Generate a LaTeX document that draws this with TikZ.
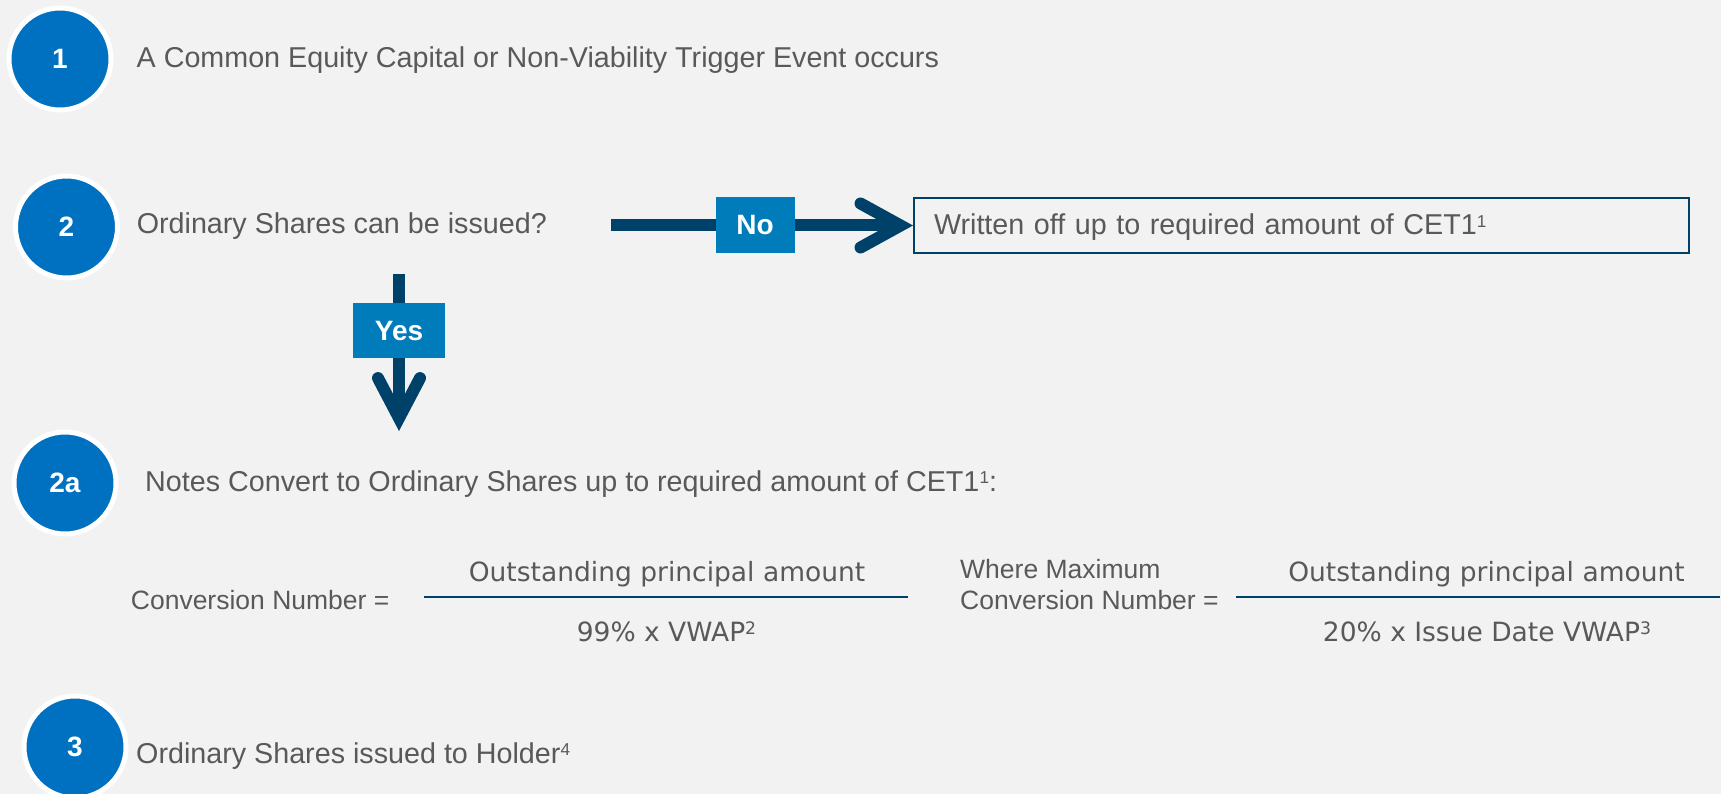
\documentclass[tikz,border=0pt]{standalone}
\usepackage{fontspec}
\usepackage{graphicx}
\setmainfont{Liberation Sans}
\newfontfamily\fracfont{DejaVu Sans}
\usetikzlibrary{arrows.meta, positioning}
\definecolor{BgGrey}{HTML}{F2F2F2}
\definecolor{StepBlue}{HTML}{0070C0}
\definecolor{FlowNavy}{HTML}{00416A}
\definecolor{TagBlue}{HTML}{007CBA}
\definecolor{TextGrey}{HTML}{595959}
\newcommand{\fnmark}[1]{\raisebox{0.25em}{\scalebox{0.6}{#1}}}
\newcommand{\fnmarkv}[1]{\raisebox{0.25em}{\scalebox{0.65}{#1}}}

\begin{document}
\begin{tikzpicture}[
    x=1pt, y=-1pt,
    font=\fontsize{28.7}{34}\selectfont,
    % Step Styles
    stepcircle/.style={circle, fill=StepBlue, draw=white, line width=5pt, minimum size=102pt, inner sep=0pt, text=white, font=\fontsize{28}{34}\selectfont\bfseries},
    steptext/.style={anchor=base west, inner sep=0pt, text=TextGrey},
    % Flow Styles
    flow/.style={FlowNavy, line width=12pt},
    tag/.style={fill=TagBlue, text=white, inner sep=0pt, font=\fontsize{28}{34}\selectfont\bfseries},
    outbox/.style={draw=FlowNavy, line width=2pt, anchor=west, minimum width=775pt, minimum height=55pt, text width=735pt, inner xsep=20pt, align=left, text height=21pt, text depth=2pt, text=TextGrey},
    % Formula Styles
    eqtext/.style={inner sep=0pt, text=TextGrey, font=\fontsize{26.5}{31}\selectfont},
    fractext/.style={anchor=base, inner sep=0pt, text=TextGrey, font=\fontsize{26.5}{31}\selectfont\fracfont},
    fracbar/.style={FlowNavy, line width=2.8pt}
]
    \useasboundingbox (0,0) rectangle (1721,794);
    \fill[BgGrey] (0,0) rectangle (1721,794);

    % ==========================================
    % STEP 1: Trigger
    % ==========================================
    \node[stepcircle] (s1) at (60,59) {1};
    \node[steptext] (t1) at (136.5,68) {A Common Equity Capital or Non-Viability Trigger Event occurs};

    % ==========================================
    % STEP 2: Decision
    % ==========================================
    \node[stepcircle] (s2) at (66.5,227) {2};
    \node[steptext] (t2) at (136.6,233.5) {Ordinary Shares can be issued?};
    \node[outbox] (written) at (913,225.5) {Written off up to required amount of CET1\fnmark{1}};

    \coordinate (noStart) at (611,225.5);
    \draw[flow, -{Straight Barb[length=40pt, width=44pt, line cap=round, line join=miter]}]
        (noStart) -- (written.west) node[tag, pos=0.477, minimum width=79pt, minimum height=56pt] (noTag) {No};

    \coordinate (yesStart) at (399,274);
    \coordinate (yesEnd) at (399,431);
    \draw[flow, -{Straight Barb[length=40pt, width=42pt, line cap=round, line join=miter]}]
        (yesStart) -- (yesEnd) node[tag, pos=0.363, minimum width=92pt, minimum height=55pt] (yesTag) {Yes};

    % ==========================================
    % STEP 2a: Conversion
    % ==========================================
    \node[stepcircle] (s2a) at (65,483) {2a};
    \node[steptext] (t2a) at (145,491) {Notes Convert to Ordinary Shares up to required amount of CET1\fnmark{1}:};

    % Conversion Number
    \node[eqtext, anchor=base west] (conv) at (130.7,609) {Conversion Number =};
    \node[fractext] (num1) at (667,581) {Outstanding principal amount};
    \node[fractext] (den1) at (666.5,641.5) {99\% x VWAP\fnmarkv{2}};
    \draw[fracbar] (424,597) -- (908,597);

    % Maximum Conversion Number
    \node[eqtext, anchor=west, align=left] (maxconv) at (960,585) {Where Maximum\\Conversion Number =};
    \node[fractext] (num2) at (1486.5,581) {Outstanding principal amount};
    \node[fractext] (den2) at (1487,641.5) {20\% x Issue Date VWAP\fnmarkv{3}};
    \draw[fracbar] (1236,597) -- (1720,597);

    % ==========================================
    % STEP 3: Issue
    % ==========================================
    \node[stepcircle] (s3) at (75,747) {3};
    \node[steptext] (t3) at (136,763) {Ordinary Shares issued to Holder\fnmark{4}};

\end{tikzpicture}
\end{document}
